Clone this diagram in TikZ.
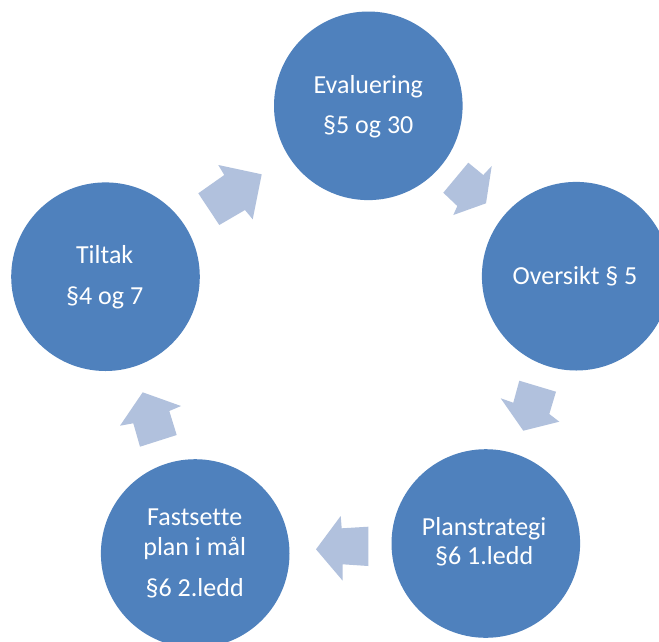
\documentclass[tikz,border=0pt]{standalone}
\usepackage{fontspec}
\setmainfont{Carlito}[Ligatures=NoCommon]
\definecolor{circblue}{HTML}{4F81BD}
\definecolor{arrblue}{HTML}{B1C1DD}
\begin{document}
\begin{tikzpicture}[x=1pt,y=-1pt,
  bubble/.style={circle,fill=circblue,draw=none,minimum size=188.6pt,inner sep=0pt},
  lbl/.style={anchor=base,text=white,font=\fontsize{26}{30}\selectfont,inner sep=0pt},
  blockarrow/.style={fill=arrblue,draw=none}]
\clip (0,0) rectangle (659,641);
\fill[white] (0,0) rectangle (659,641);
% circles
\node[bubble] (ev) at (368.3,105.8) {};
\node[bubble] (ov) at (576.2,276.2) {};
\node[bubble] (pl) at (485.8,543.5) {};
\node[bubble] (fa) at (195.2,553.5) {};
\node[bubble] (ti) at (105.5,276.7) {};
% labels
\node[lbl] (ev1) at (368.3,93.3) {Evaluering};
\node[lbl] (ev2) at (368.3,133.3) {§5 og 30};
\node[lbl] (ov1) at (575,284) {Oversikt § 5};
\node[lbl] (pl1) at (484.2,535.7) {Planstrategi};
\node[lbl] (pl2) at (484.2,564) {§6 1.ledd};
\node[lbl] (fa1) at (194.7,525.7) {Fastsette};
\node[lbl] (fa2) at (194.7,555.5) {plan i mål};
\node[lbl] (fa3) at (194.7,596.7) {§6 2.ledd};
\node[lbl] (ti1) at (104.7,263.3) {Tiltak};
\node[lbl] (ti2) at (104.7,304) {§4 og 7};
% block arrows
\fill[blockarrow] (198.3,193.3) -- (224.3,175) -- (218.3,165) -- (261.7,174.3) -- (252.7,219.3) -- (245,210) -- (219.3,225) -- cycle;
\fill[blockarrow] (468.3,162.7) -- (483.3,175) -- (491.7,166) -- (486,203.3) -- (453.3,215) -- (457.3,206) -- (443.3,192.7) -- cycle;
\fill[blockarrow] (556,391.7) -- (549.3,414) -- (559.3,421.7) -- (523.3,430.7) -- (500.7,398.3) -- (513.3,402.7) -- (519.3,380.7) -- cycle;
\fill[blockarrow] (368.3,526.7) -- (341.7,528.3) -- (340.7,516) -- (316,549.3) -- (342.7,580.7) -- (342.7,564.3) -- (368.3,566) -- cycle;
\fill[blockarrow] (140,446.7) -- (133.3,423.3) -- (120,425.7) -- (142.7,392.3) -- (181,406) -- (169.3,411) -- (176.7,435) -- cycle;
\end{tikzpicture}
\end{document}
